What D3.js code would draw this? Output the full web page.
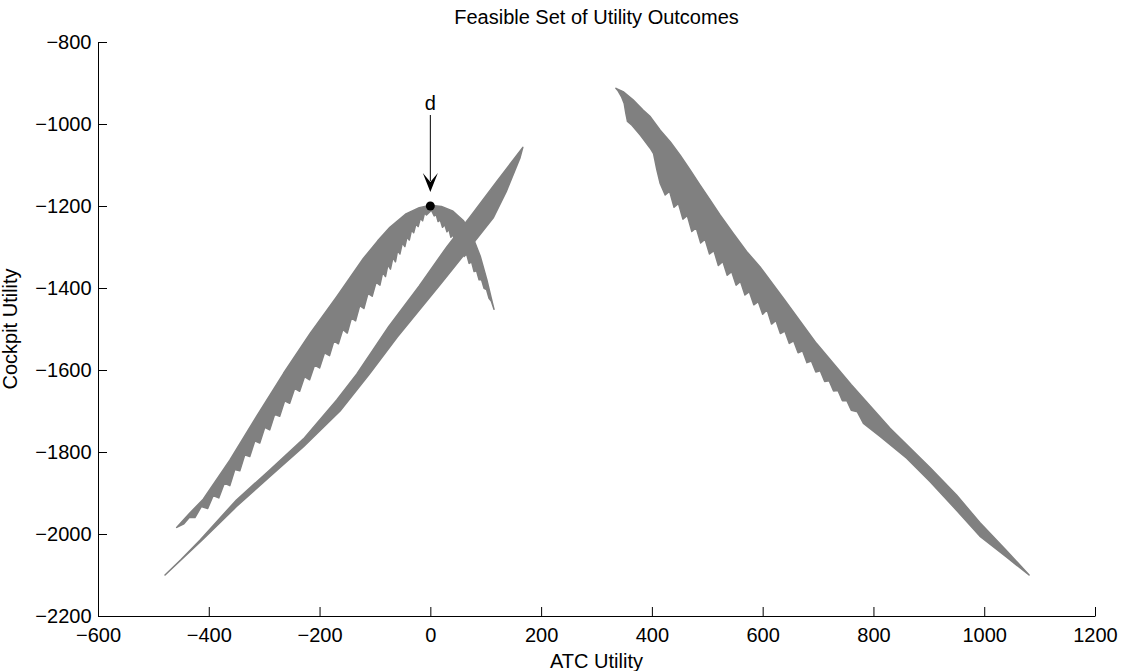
<!DOCTYPE html>
<html>
<head>
<meta charset="utf-8">
<script src="https://cdn.jsdelivr.net/npm/d3@7"></script>
<style>
  body { margin: 0; background: #fff; }
  svg { display: block; }
  text { font-family: "Liberation Sans", Arial, Helvetica, sans-serif; }
</style>
</head>
<body>
<svg id="chart"></svg>
<script>
const width = 1123;
const height = 671;
const plotLeft = 98, plotRight = 1095, plotTop = 42, plotBottom = 616;

const xTicks = [-600, -400, -200, 0, 200, 400, 600, 800, 1000, 1200];
const yTicks = [-2200, -2000, -1800, -1600, -1400, -1200, -1000, -800];

// arc family: outer edge from lower tip over the peak to the right tip
const arcOuter = [
    [-458,-1984],[-435,-1950],[-410,-1915],[-362,-1820],[-314,-1714],[-265,-1608],
    [-217,-1511],[-169,-1421],[-121,-1328],[-95,-1285],[-73,-1252],[-45,-1220],[-20,-1204],
    [0,-1198],[20,-1201],[40,-1212],[60,-1236],[75,-1270],[90,-1322],
    [102,-1380],[110,-1425],[115,-1452]
];
// ragged ends of the right arm, back up to the peak
const arcInnerRight = [
    [110,-1432],[106,-1425],[101.5,-1404],[97,-1401],[92.5,-1380],[88,-1380],
    [83.5,-1358],[79,-1360],[74.5,-1336],[70,-1340],[65.5,-1317],[61,-1323],
    [57,-1301],[53,-1307],[49,-1285],[45,-1291],[41,-1270],[37,-1276],
    [33.5,-1257],[30,-1263],[26,-1245],[22,-1252],[18,-1234],[14,-1238],
    [10.5,-1221],[7,-1224],[2,-1210]
];
// ragged ends of the left arm, down to the lower tip
const arcInnerLeft = [
    [-7,-1222],[-10.5,-1217],[-14,-1236],[-18,-1230],[-22,-1250],[-26,-1244],
    [-30,-1265],[-34,-1259],[-38,-1283],[-42,-1275],[-46,-1299],[-50.5,-1290],
    [-55,-1317],[-59,-1308],[-63,-1336],[-67.5,-1326],[-72,-1354],[-76.5,-1343],
    [-81,-1372],[-86,-1362],[-91,-1393],[-98,-1386],[-105,-1420],[-112.5,-1413],
    [-120,-1450],[-127.5,-1443],[-135,-1480],[-142.5,-1473],[-150,-1510],[-158,-1501],
    [-166,-1536],[-174,-1529],[-182,-1565],[-191,-1558],[-200,-1595],[-209,-1588],
    [-218,-1624],[-227,-1616],[-236,-1652],[-245,-1645],[-254,-1681],[-263,-1675],
    [-272,-1713],[-281,-1708],[-290,-1746],[-299,-1740],[-308,-1778],[-317,-1773],
    [-326,-1811],[-335,-1807],[-344,-1846],[-353,-1843],[-362,-1882],[-372,-1876],
    [-382,-1912],[-392,-1906],[-402,-1938],[-413.5,-1933],[-425,-1960],[-435,-1959],
    [-445,-1975],[-458,-1984]
];

// diagonal band
const bandUpper = [
    [-479,-2100],[-450,-2062],[-416,-2015],[-350,-1917],[-290,-1844],[-229,-1768],
    [-169,-1673],[-133,-1610],[-75,-1494],[-20,-1395],[30,-1299],[72,-1226],
    [120,-1140],[167,-1057]
];
const bandLower = [
    [162,-1082],[137,-1165],[114,-1228],[78,-1290],[20,-1388],[-60,-1520],
    [-110,-1610],[-163,-1700],[-229,-1787],[-290,-1860],[-350,-1933],[-410,-2012],
    [-479,-2100]
];

// right wing
const wingUpper = [
    [335,-913],[348,-921],[366,-941],[384,-966],[397,-982],[415,-1015],[433,-1043],
    [451,-1076],[469,-1112],[487,-1149],[505,-1185],[523,-1222],[547,-1267],
    [571,-1311],[595,-1348],[640,-1430],[697,-1535],[760,-1636],[830,-1742],
    [902,-1838],[950,-1905],[992,-1972],[1040,-2040],[1081,-2100]
];
const wingLower = [
    [1040,-2056],[992,-2005],[950,-1942],[902,-1872],[860,-1815],[812,-1762],
    [782,-1730],[771,-1702],[760,-1698],[752,-1675],[744,-1675],[736,-1650],
    [728,-1651],[720,-1626],[712,-1628],[704,-1602],[696,-1605],[688,-1578],
    [680,-1582],[672,-1553],[664,-1558],[656,-1529],[648,-1535],[640,-1505],
    [632,-1511],[624,-1479],[616,-1488],[608,-1453],[600,-1464],[592,-1433],
    [584,-1441],[576,-1409],[568,-1417],[560,-1384],[552,-1393],[544,-1360],
    [536,-1369],[528,-1335],[520,-1345],[512,-1309],[504,-1317],[496,-1281],
    [488,-1290],[480,-1253],[472,-1262],[464,-1223],[456,-1232],[448,-1194],
    [440,-1203],[432,-1164],[424,-1173],[415,-1145],[409,-1112],[403,-1072],
    [397,-1059],[379,-1027],[364,-1003],[356,-994],[353,-974],[350,-950],
    [345,-933],[339,-919],[335,-913]
];

// disagreement point
const dPoint = [0, -1200];
const dLabel = 'd';

const svg = d3.select('#chart')
            .attr('width', width)
            .attr('height', height);

const x = d3.scaleLinear().domain([-600, 1200]).range([plotLeft, plotRight]);
const y = d3.scaleLinear().domain([-2200, -800]).range([plotBottom, plotTop]);

const line = d3.line().x(d => x(d[0])).y(d => y(d[1]));

const shapes = [
    arcOuter.concat(arcInnerRight, arcInnerLeft),
    bandUpper.concat(bandLower),
    wingUpper.concat(wingLower)
];

svg.append('g').selectAll('path').data(shapes).enter().append('path')
    .attr('d', d => line(d) + 'Z')
    .attr('fill', '#808080')
    .attr('stroke', '#808080')
    .attr('stroke-width', 1.5)
    .attr('stroke-linejoin', 'round');

// axes, matlab style: ticks inside, no box
const xAxis = svg.append('g')
    .attr('transform', `translate(0, ${plotBottom})`)
    .call(d3.axisBottom(x).tickValues(xTicks).tickSizeInner(-9).tickSizeOuter(0)
        .tickPadding(11.5).tickFormat(d3.format('d')));

const yAxis = svg.append('g')
    .attr('transform', `translate(${plotLeft}, 0)`)
    .call(d3.axisLeft(y).tickValues(yTicks).tickSizeInner(-9).tickSizeOuter(0)
        .tickPadding(6.5).tickFormat(d3.format('d')));

[xAxis, yAxis].forEach(a => {
    a.attr('font-size', 20).attr('font-family', '"Liberation Sans", Arial, Helvetica, sans-serif');
    a.selectAll('path, line').attr('stroke', '#000');
    a.selectAll('text').attr('fill', '#000');
});

svg.append('text')
    .attr('x', (plotLeft + plotRight) / 2)
    .attr('y', 24)
    .attr('text-anchor', 'middle')
    .attr('font-size', 20)
    .text('Feasible Set of Utility Outcomes');

svg.append('text')
    .attr('x', (plotLeft + plotRight) / 2)
    .attr('y', 668)
    .attr('text-anchor', 'middle')
    .attr('font-size', 20)
    .text('ATC Utility');

svg.append('text')
    .attr('transform', `translate(17, ${(plotTop + plotBottom) / 2}) rotate(-90)`)
    .attr('text-anchor', 'middle')
    .attr('font-size', 20)
    .text('Cockpit Utility');

// annotation arrow pointing at d
const cx = x(dPoint[0]), cy = y(dPoint[1]);

svg.append('line')
    .attr('x1', cx).attr('x2', cx)
    .attr('y1', cy - 91).attr('y2', cy - 25)
    .attr('stroke', '#000')
    .attr('stroke-width', 1);

svg.append('path')
    .attr('d', `M${cx},${cy - 14} L${cx - 7.5},${cy - 33} L${cx},${cy - 24} L${cx + 7.5},${cy - 33} Z`)
    .attr('fill', '#000');

svg.append('circle')
    .attr('cx', cx).attr('cy', cy)
    .attr('r', 4.5)
    .attr('fill', '#000');

svg.append('text')
    .attr('x', cx)
    .attr('y', cy - 96)
    .attr('text-anchor', 'middle')
    .attr('font-size', 20)
    .text(dLabel);
</script>
</body>
</html>
